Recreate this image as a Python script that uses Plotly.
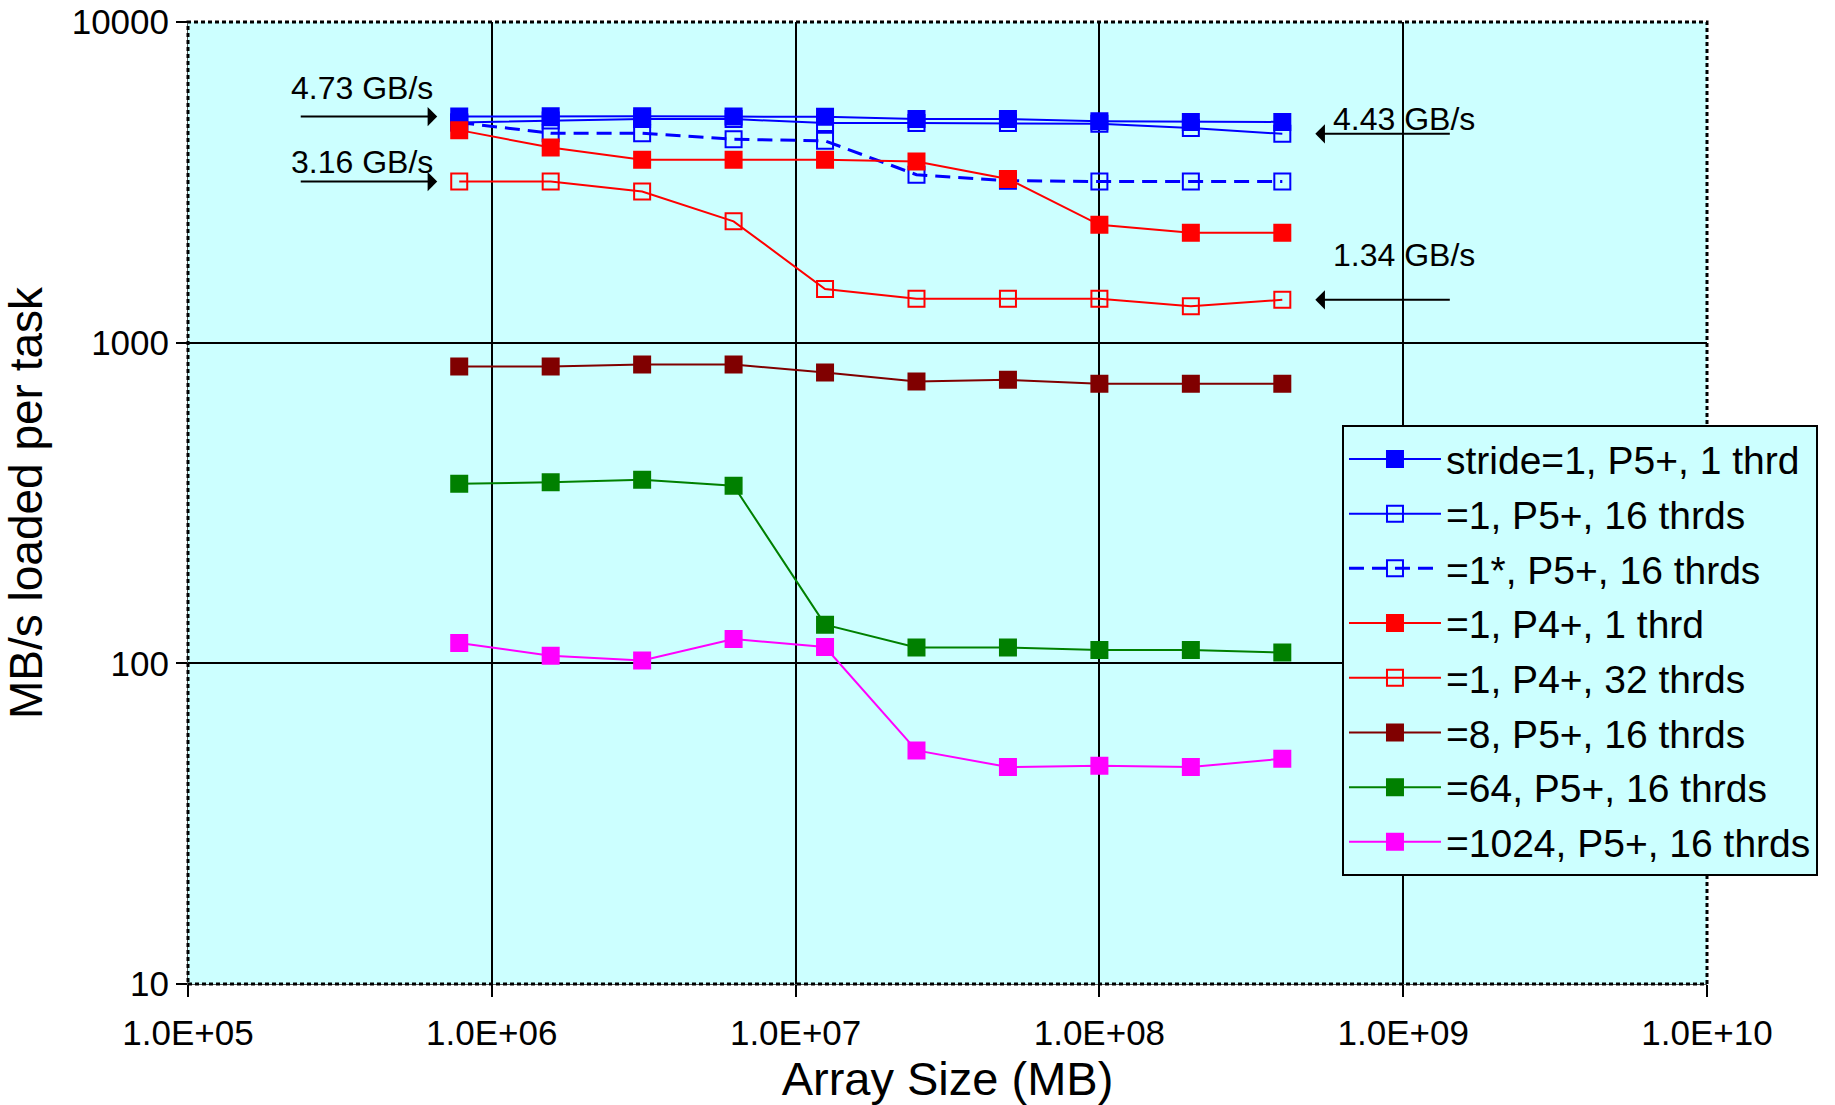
import plotly.graph_objects as go
import math

# ---------------- data ----------------
sizes = [781250, 1562500, 3125000, 6250000, 12500000, 25000000, 50000000,
         100000000, 200000000, 400000000]

s_p5_1 = [5070, 5080, 5080, 5070, 5060, 4980, 4980, 4900, 4880, 4880]
s_p5_16 = [4860, 4930, 4980, 4980, 4840, 4840, 4840, 4820, 4670, 4480]
s_p5_16_star = [4860, 4500, 4500, 4310, 4260, 3340, 3200, 3180, 3180, 3180]
s_p4_1 = [4600, 4060, 3720, 3720, 3720, 3670, 3240, 2330, 2200, 2200]
s_p4_32 = [3180, 3180, 2960, 2390, 1470, 1370, 1370, 1370, 1300, 1360]
s8_p5_16 = [843, 843, 855, 855, 807, 757, 766, 744, 744, 744]
s64_p5_16 = [363, 367, 374, 358, 132, 112, 112, 110, 110, 108]
s1024_p5_16 = [115.7, 105.6, 102.1, 119.1, 112.4, 53.5, 47.5, 47.9, 47.5, 50.4]

names = ["stride=1, P5+, 1 thrd", "=1, P5+, 16 thrds", "=1*, P5+, 16 thrds",
         "=1, P4+, 1 thrd", "=1, P4+, 32 thrds", "=8, P5+, 16 thrds",
         "=64, P5+, 16 thrds", "=1024, P5+, 16 thrds"]

x_tickvals = [1e5, 1e6, 1e7, 1e8, 1e9, 1e10]
x_ticktext = ["1.0E+05", "1.0E+06", "1.0E+07", "1.0E+08", "1.0E+09", "1.0E+10"]
y_tickvals = [10, 100, 1000, 10000]
y_ticktext = ["10", "100", "1000", "10000"]

notes = ["4.73 GB/s", "3.16 GB/s", "4.43 GB/s", "1.34 GB/s"]

# ---------------- styles ----------------
series = [s_p5_1, s_p5_16, s_p5_16_star, s_p4_1, s_p4_32, s8_p5_16, s64_p5_16, s1024_p5_16]
colors = ["#0000FF", "#0000FF", "#0000FF", "#FF0000", "#FF0000", "#800000", "#008000", "#FF00FF"]
symbols = ["square", "square-open", "square-open", "square", "square-open", "square", "square", "square"]
dashes = ["solid", "solid", "15px,8px", "solid", "solid", "solid", "solid", "solid"]

fig = go.Figure()
for i, (ys, nm, c, sym, d) in enumerate(zip(series, names, colors, symbols, dashes)):
    fig.add_trace(go.Scatter(
        x=sizes, y=ys, name=nm, mode="lines+markers", legendgroup=f"g{i}",
        line=dict(color=c, width=2 if d == "solid" else 3, dash=d),
        marker=dict(symbol=sym, size=16, color=c, line=dict(color=c, width=2)),
    ))

font_family = "Liberation Sans, Arial, sans-serif"

annotations = []
# arrows pointing at data points
arrow_specs = [
    (sizes[0], s_p5_1[0], -160, 22),
    (sizes[0], s_p4_32[0], -160, 22),
    (sizes[-1], s_p5_16[-1], 169, 33),
    (sizes[-1], s_p4_32[-1], 169, 33),
]
for (xv, yv, ax, so) in arrow_specs:
    annotations.append(dict(
        x=math.log10(xv), y=math.log10(yv), xref="x", yref="y",
        ax=ax, ay=0, axref="pixel", ayref="pixel", text="",
        showarrow=True, arrowhead=1, arrowsize=1.6, arrowwidth=2,
        arrowcolor="black", standoff=so,
    ))
text_specs = [
    (sizes[0], s_p5_1[0], -97, 29),
    (sizes[0], s_p4_32[0], -97, 20),
    (sizes[-1], s_p5_16[-1], 122, 15),
    (sizes[-1], s_p4_32[-1], 122, 45),
]
for t, (xv, yv, xs, ys_) in zip(notes, text_specs):
    annotations.append(dict(
        x=math.log10(xv), y=math.log10(yv), xref="x", yref="y",
        text=t, showarrow=False, xshift=xs, yshift=ys_,
        font=dict(family=font_family, size=32, color="black"),
        xanchor="center", yanchor="middle",
    ))

fig.update_layout(
    width=1835, height=1105,
    margin=dict(l=188, r=128, t=22, b=121, autoexpand=False),
    paper_bgcolor="white",
    plot_bgcolor="#CCFFFF",
    font=dict(family=font_family, color="black"),
    showlegend=True,
    legend=dict(
        x=0.7597, y=0.581, xanchor="left", yanchor="top",
        bgcolor="#CCFFFF", bordercolor="black", borderwidth=2,
        font=dict(family=font_family, size=39, color="black"),
        itemwidth=92, tracegroupgap=1,
    ),
    annotations=annotations,
    shapes=[dict(type="rect", xref="paper", yref="paper", x0=0, y0=0, x1=1, y1=1,
                 line=dict(color="black", width=3, dash="4px,3px"), layer="above")],
)

fig.update_xaxes(
    type="log", range=[5, 10],
    tickvals=x_tickvals, ticktext=x_ticktext,
    ticks="outside", ticklen=12, tickwidth=1.5, tickcolor="black",
    tickfont=dict(family=font_family, size=35, color="black"),
    ticklabelstandoff=6,
    showgrid=True, gridcolor="black", gridwidth=1.5,
    showline=True, linecolor="#555555", linewidth=1,
    zeroline=False,
    title=dict(text="Array Size (MB)", font=dict(family=font_family, size=47, color="black"), standoff=0),
)
fig.update_yaxes(
    type="log", range=[1, 4],
    tickvals=y_tickvals, ticktext=y_ticktext,
    ticks="outside", ticklen=11, tickwidth=1.5, tickcolor="black",
    tickfont=dict(family=font_family, size=35, color="black"),
    showgrid=True, gridcolor="black", gridwidth=1.5,
    showline=True, linecolor="#555555", linewidth=1,
    zeroline=False,
    title=dict(text="MB/s loaded per task", font=dict(family=font_family, size=46, color="black"), standoff=14),
)

fig.write_html("out.html")
